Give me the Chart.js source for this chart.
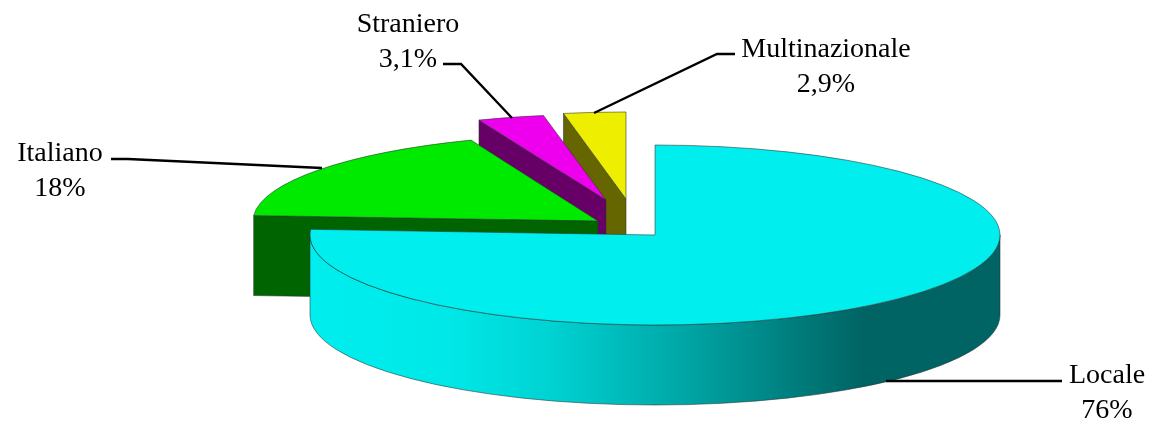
<!DOCTYPE html>
<html>
<head>
<meta charset="utf-8">
<style>
  html, body { margin: 0; padding: 0; background: #fff; }
  canvas { display: block; }
</style>
<script src="https://cdn.jsdelivr.net/npm/chart.js@4"></script>
</head>
<body>
<canvas id="pie" width="1153" height="423"></canvas>
<script>
// Data
const categories = ["Locale", "Italiano", "Straniero", "Multinazionale"];
const shares = [76, 18, 3.1, 2.9];
const shareLabels = ["76%", "18%", "3,1%", "2,9%"];

// Colours
const topColors = ["#00eeee", "#00ea00", "#ee00ee", "#eeee00"];
const wallColors = ["#006464", "#006400", "#660066", "#666600"];
const edgeColor = "rgba(40,50,50,0.55)";

// Fake 3D geometry (pixels)
const centre = { x: 655, y: 235 };
const radiusX = 345;
const sliceRadiusY = [90, 87, 86, 87];
const depth = 80;
const sliceShift = [[0, 0], [-57, -14], [-49, -35], [-29, -36]];

// Label placement: centre x, first baseline, then leader line points
const labelPos = [[1107, 383], [60, 161], [408, 32], [826, 57]];
const leaders = [
  [[1062, 381], [886, 381]],
  [[111, 159], [128, 159], [322, 168]],
  [[443, 64], [461, 64], [512, 118]],
  [[735, 54], [717, 54], [594, 113]]
];

function wallGradient(ctx) {
  const g = ctx.createLinearGradient(centre.x - radiusX, 0, centre.x + radiusX, 0);
  g.addColorStop(0, "#00eeee");
  g.addColorStop(0.2, "#00e8e8");
  g.addColorStop(0.35, "#00d2d2");
  g.addColorStop(0.55, "#00a4a4");
  g.addColorStop(0.8, wallColors[0]);
  g.addColorStop(1, wallColors[0]);
  return g;
}

// Round outer wall, only the part of the rim that faces the viewer
function drawRim(ctx, el, cx, cy, ry, fill) {
  const a = Math.max(el.startAngle, 0);
  const b = Math.min(el.endAngle, Math.PI);
  if (b <= a) return;
  ctx.beginPath();
  ctx.ellipse(cx, cy, radiusX, ry, 0, a, b);
  ctx.ellipse(cx, cy + depth, radiusX, ry, 0, b, a, true);
  ctx.closePath();
  ctx.fillStyle = fill;
  ctx.fill();
  ctx.strokeStyle = edgeColor;
  ctx.lineWidth = 1;
  ctx.stroke();
}

// Flat cut face running from the tip to the rim along the slice's start angle
function drawCut(ctx, el, cx, cy, ry, fill) {
  const ex = cx + Math.cos(el.startAngle) * radiusX;
  const ey = cy + Math.sin(el.startAngle) * ry;
  ctx.beginPath();
  ctx.moveTo(cx, cy);
  ctx.lineTo(ex, ey);
  ctx.lineTo(ex, ey + depth);
  ctx.lineTo(cx, cy + depth);
  ctx.closePath();
  ctx.fillStyle = fill;
  ctx.fill();
  ctx.strokeStyle = edgeColor;
  ctx.lineWidth = 1;
  ctx.stroke();
}

const fakePie3d = {
  id: "fakePie3d",
  beforeDatasetsDraw(chart) {
    const ctx = chart.ctx;
    const arcs = chart.getDatasetMeta(0).data;
    // back to front, Locale sits over everything
    for (let i = arcs.length - 1; i >= 0; i--) {
      const el = arcs[i];
      const cx = centre.x + sliceShift[i][0];
      const cy = centre.y + sliceShift[i][1];
      const ry = sliceRadiusY[i];

      if (i > 0) drawCut(ctx, el, cx, cy, ry, wallColors[i]);
      drawRim(ctx, el, cx, cy, ry, i === 0 ? wallGradient(ctx) : wallColors[i]);

      // the library's own arc, squashed into the ellipse
      ctx.save();
      ctx.translate(cx, cy);
      ctx.scale(radiusX / el.outerRadius, ry / el.outerRadius);
      ctx.translate(-el.x, -el.y);
      el.draw(ctx);
      ctx.restore();

      // outline of the top face
      ctx.beginPath();
      ctx.moveTo(cx, cy);
      ctx.ellipse(cx, cy, radiusX, ry, 0, el.startAngle, el.endAngle);
      ctx.closePath();
      ctx.strokeStyle = edgeColor;
      ctx.lineWidth = 1;
      ctx.stroke();
    }
    return false; // top faces are done above
  },
  afterDraw(chart) {
    const ctx = chart.ctx;
    ctx.save();
    ctx.strokeStyle = "#000";
    ctx.lineWidth = 2.4;
    leaders.forEach(pts => {
      ctx.beginPath();
      pts.forEach((p, k) => (k ? ctx.lineTo(p[0], p[1]) : ctx.moveTo(p[0], p[1])));
      ctx.stroke();
    });
    ctx.fillStyle = "#000";
    ctx.font = '28px "Liberation Serif"';
    ctx.textAlign = "center";
    ctx.textBaseline = "alphabetic";
    categories.forEach((name, i) => {
      ctx.fillText(name, labelPos[i][0], labelPos[i][1]);
      ctx.fillText(shareLabels[i], labelPos[i][0], labelPos[i][1] + 35);
    });
    ctx.restore();
  }
};

new Chart(document.getElementById("pie"), {
  type: "pie",
  data: {
    labels: categories,
    datasets: [{ data: shares, backgroundColor: topColors, borderWidth: 0 }]
  },
  options: {
    responsive: false,
    animation: false,
    events: [],
    plugins: { legend: { display: false }, tooltip: { enabled: false } }
  },
  plugins: [fakePie3d]
});
</script>
</body>
</html>
